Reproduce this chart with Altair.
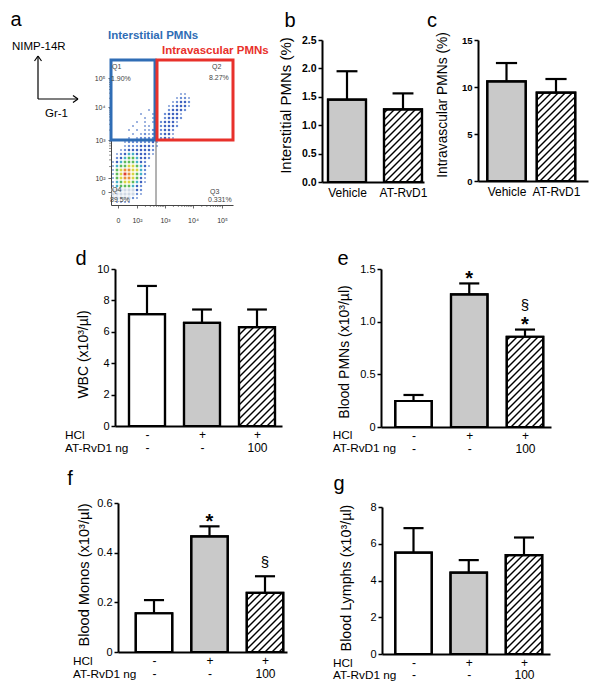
import json
import math
import altair as alt
import pandas as pd

W, H, M = 586, 679, 8
SANS = "Liberation Sans, Arial, Helvetica, sans-serif"
NARROW = "Liberation Sans Narrow, Liberation Sans, Arial, sans-serif"

# ------------------------------------------------------------------ data
# panel b / c : Vehicle vs AT-RvD1
bc_groups = ["Vehicle", "AT-RvD1"]
bc_fill = ["gray", "hatch"]
b_mean = [1.45, 1.28]
b_upper = [1.95, 1.56]
c_mean = [10.6, 9.4]
c_upper = [12.55, 10.85]

# panels d-g : control / HCl / HCl + AT-RvD1
hcl_row = ["-", "+", "+"]
rvd_row = ["-", "-", "100"]
trio_fill = ["white", "gray", "hatch"]
d_mean = [7.12, 6.57, 6.30]
d_upper = [8.92, 7.42, 7.42]
e_mean = [0.247, 1.26, 0.857]
e_upper = [0.304, 1.363, 0.925]
f_mean = [0.156, 0.466, 0.238]
f_upper = [0.209, 0.506, 0.305]
g_mean = [5.52, 4.43, 5.38]
g_upper = [6.85, 5.11, 6.34]
e_star = [1, 2]
e_section = [2]
f_star = [1]
f_section = [2]

# panel a : flow cytometry (display units)
flow_ticks_x = [7, 26, 54, 82, 111]
flow_ticks_y = [13, 27, 65, 98, 127]
flow_tick_text = ["0", "10²", "10³", "10⁴", "10⁵"]
gate_names = ["Q1", "Q2", "Q3", "Q4"]
gate_pct = ["1.90%", "8.27%", "0.331%", "89.5%"]
gate_x = 46
gate_y = 65
flow_grid = [
    "                 .. ",
    "                .::.",
    "               .:bb:",
    "              .:bbb.",
    "         .    :bbb: ",
    "       .  .  :bbb.  ",
    "        . .  :bbb:  ",
    "      . . . :bbb.   ",
    "     .  ..  :bbb:   ",
    "    . . ..: :bb:    ",
    "     . .:.: :bb.    ",
    "    . .:::: :b:.    ",
    "   .::::::b.        ",
    "   .:::bbb:.        ",
    "  .:bbbbbb:         ",
    " .:bccbbb:.         ",
    " :bcggcbb:          ",
    ".bcgggcb:           ",
    ".cggyygcb.          ",
    ".gyooyyc:           ",
    ".gyroygc:           ",
    ".gyooygb.           ",
    ".cgyygcb.           ",
    ".cgggcb:            ",
    "ppppppb:            ",
    "pppppp:.            ",
    "ppppp:.             ",
    " ....               ",
]

# ------------------------------------------------------------------ layout / style
FILL = {"white": "#ffffff", "gray": "#c9c9c9", "hatch": "#ffffff"}
DENS = {".": ("#9db3e0", 4), ":": ("#6d8fd6", 9), "b": ("#3f63c0", 16),
        "c": ("#45b0c8", 16), "g": ("#5dbb5a", 16), "y": ("#d8d442", 16),
        "o": ("#e8903a", 16), "r": ("#e0402f", 16), "p": ("#cfd9e6", 16)}
LAY = {
    "b": dict(left=322, right=424, top=40, bottom=182, c0=347, step=56, bw=38, ymax=2.5),
    "c": dict(left=478, right=588, top=40, bottom=181, c0=506.5, step=49.5, bw=38.5, ymax=15),
    "d": dict(left=115, right=282, top=269, bottom=426, c0=147, step=55, bw=36, ymax=10),
    "e": dict(left=381, right=551, top=269, bottom=427, c0=413.5, step=55.75, bw=36.5, ymax=1.5),
    "f": dict(left=118, right=287, top=503, bottom=652, c0=154, step=55.5, bw=36.5, ymax=0.6),
    "g": dict(left=382, right=550, top=507, bottom=654, c0=413.5, step=55.25, bw=36.5, ymax=8),
}
ONE = pd.DataFrame({"k": [0]})


def hatch_segments(i, mean, geo, s=7.0):
    half = geo["bw"] / 2
    cx = geo["c0"] + i * geo["step"]
    x0, x1 = cx - half, cx + half
    yb = geo["bottom"]
    pxy = (geo["bottom"] - geo["top"]) / geo["ymax"]
    yt = yb - mean * pxy
    segs = []
    kmin, kmax = x0 + yt, x1 + yb
    j = math.floor(kmin / s) + 1
    while j * s < kmax:
        k = j * s
        xa = max(x0, k - yb)
        xb = min(x1, k - yt)
        if xb - xa > 0.8:
            segs.append(dict(hx1=(xa - geo["c0"]) / geo["step"], hx2=(xb - geo["c0"]) / geo["step"],
                             hy1=(yb - (k - xa)) / pxy, hy2=(yb - (k - xb)) / pxy))
        j += 1
    return segs


def y_axis(geo, values, expr, title, tcx, tcy, font, size, weight, tsize=14):
    return alt.Axis(orient="left", offset=-(geo["left"] - M), values=values, labelExpr=expr,
                    labelFont=font, labelFontSize=size, labelFontWeight=weight, labelColor="black",
                    labelPadding=2, labelFlush=False, labelOverlap=False, tickSize=4,
                    tickColor="black", tickWidth=1.5, domainColor="black", domainWidth=2,
                    grid=False, title=title, titleFont=SANS, titleFontSize=tsize,
                    titleFontWeight="normal", titleColor="black", titleAngle=270,
                    titleAlign="center", titleBaseline="middle",
                    titleX=tcx - geo["left"], titleY=tcy - M)


def x_axis(geo, n, expr, pad, lh):
    return alt.Axis(orient="bottom", offset=(geo["bottom"] - M) - H, values=list(range(n)),
                    labelExpr=expr, ticks=False, tickSize=0, labelPadding=pad,
                    labelLineHeight=lh, labelBaseline="top", labelFont=SANS, labelFontSize=12,
                    labelColor="black", labelFlush=False, labelOverlap=False, labelAngle=0,
                    domainColor="black", domainWidth=2, grid=False, title="")


def bar_panel(means, uppers, fills, geo, yax, xax, stars=(), sections=()):
    n = len(means)
    lo = (geo["left"] - geo["c0"]) / geo["step"]
    hi = (geo["right"] - geo["c0"]) / geo["step"]
    xs = alt.Scale(domain=[lo, hi], range=[geo["left"] - M, geo["right"] - M], nice=False, zero=False)
    ys = alt.Scale(domain=[0, geo["ymax"]], range=[geo["bottom"] - M, geo["top"] - M], nice=False, zero=False)
    half = geo["bw"] / 2 / geo["step"]
    cap = half * 0.55
    idx = list(range(n))
    df = pd.DataFrame({"i": idx, "x1": [i - half for i in idx], "x2": [i + half for i in idx],
                       "cl": [i - cap for i in idx], "cr": [i + cap for i in idx],
                       "m": means, "u": uppers, "base": [0] * n,
                       "fill": [FILL[f] for f in fills]})
    segs = []
    for i, f in enumerate(fills):
        if f == "hatch":
            segs += hatch_segments(i, means[i], geo)
    hdf = pd.DataFrame(segs)

    def X(f):
        return alt.X(f, type="quantitative", scale=xs, axis=xax)

    def Y(f):
        return alt.Y(f, type="quantitative", scale=ys, axis=yax)

    bars = alt.Chart(df).mark_rect(stroke="black", strokeWidth=2.2).encode(
        x=X("x1"), x2="x2:Q", y=Y("m"), y2="base:Q", fill=alt.Fill("fill:N", scale=None))
    hatch = alt.Chart(hdf).mark_rule(color="black", strokeWidth=1.4).encode(
        x=X("hx1"), x2="hx2:Q", y=Y("hy1"), y2="hy2:Q")
    outline = alt.Chart(df).mark_rect(fillOpacity=0, stroke="black", strokeWidth=2.2).encode(
        x=X("x1"), x2="x2:Q", y=Y("m"), y2="base:Q")
    err = alt.Chart(df).mark_rule(color="black", strokeWidth=2.2).encode(
        x=X("i"), y=Y("m"), y2="u:Q")
    caps = alt.Chart(df).mark_rule(color="black", strokeWidth=2.2).encode(
        x=X("cl"), x2="cr:Q", y=Y("u"))
    layers = [bars, hatch, outline, err, caps]
    if stars:
        sdf = pd.DataFrame({"i": list(stars), "u": [uppers[i] for i in stars]})
        layers.append(alt.Chart(sdf).mark_text(text="*", fontSize=20, fontWeight="bold", font=SANS,
                                               baseline="alphabetic", dy=1.5, color="black").encode(
            x=X("i"), y=Y("u")))
    for i in sections:
        shift = -9.5 - (10 if i in stars else 0)
        sdf = pd.DataFrame({"i": [i], "u": [uppers[i]]})
        layers.append(alt.Chart(sdf).mark_text(text="§", fontSize=15, font=SANS,
                                               baseline="alphabetic", dy=shift, color="black").encode(
            x=X("i"), y=Y("u")))
    return alt.layer(*layers)


def txt(s, x, y, size=12, align="left", baseline="alphabetic", weight="normal", color="black"):
    return alt.Chart(ONE).mark_text(text=s, align=align, baseline=baseline, fontSize=size,
                                    fontWeight=weight, color=color, font=SANS).encode(
        x=alt.value(x - M), y=alt.value(y - M))


def seg(x1, y1, x2, y2, w=1.2):
    return alt.Chart(ONE).mark_rule(color="black", strokeWidth=w).encode(
        x=alt.value(x1 - M), y=alt.value(y1 - M), x2=alt.value(x2 - M), y2=alt.value(y2 - M))


# ------------------------------------------------------------------ panel a
fx = alt.Scale(domain=[0, 122], range=[111 - M, 233 - M], nice=False, zero=False)
fy = alt.Scale(domain=[0, 145], range=[205 - M, 60 - M], nice=False, zero=False)
lab_js = json.dumps(flow_tick_text, ensure_ascii=False)
fxa = alt.Axis(orient="bottom", offset=(205 - M) - H, values=flow_ticks_x,
               labelExpr=f"{lab_js}[indexof({json.dumps(flow_ticks_x)}, datum.value)]",
               tickSize=3, tickColor="#444", tickWidth=0.8, domainColor="#444", domainWidth=1,
               labelFont=SANS, labelFontSize=7, labelColor="#333", labelPadding=8,
               labelFlush=False, labelOverlap=False, grid=False, title="")
fya = alt.Axis(orient="left", offset=-(111 - M), values=flow_ticks_y,
               labelExpr=f"{lab_js}[indexof({json.dumps(flow_ticks_y)}, datum.value)]",
               tickSize=3, tickColor="#444", tickWidth=0.8, domainColor="#444", domainWidth=1,
               labelFont=SANS, labelFontSize=7, labelColor="#333", labelPadding=3,
               labelFlush=False, labelOverlap=False, grid=False, title="")


def FX(f):
    return alt.X(f, type="quantitative", scale=fx, axis=fxa)


def FY(f):
    return alt.Y(f, type="quantitative", scale=fy, axis=fya)


cells = []
for r, row in enumerate(flow_grid):
    for c, ch in enumerate(row):
        if ch != " ":
            cells.append(dict(cx=2 + 4 * c, cy=111 - 4 * r, ch=ch))
cdf = pd.DataFrame(cells)
keys = list(DENS)
dens = alt.Chart(cdf).mark_square(opacity=1).encode(
    x=FX("cx"), y=FY("cy"),
    color=alt.Color("ch:N", scale=alt.Scale(domain=keys, range=[DENS[k][0] for k in keys]), legend=None),
    size=alt.Size("ch:O", scale=alt.Scale(domain=keys, range=[DENS[k][1] for k in keys]), legend=None))

# log-decade minor ticks on both flow axes
minor_x, minor_y = [], []
for ticks, out in ((flow_ticks_x, minor_x), (flow_ticks_y, minor_y)):
    for a, b in zip(ticks[1:-1], ticks[2:]):
        out.extend(a + math.log10(k) * (b - a) for k in range(2, 10))
mx = alt.Chart(pd.DataFrame({"x": minor_x, "y": [0] * len(minor_x), "y2": [-2] * len(minor_x)})).mark_rule(
    color="#444", strokeWidth=0.6).encode(x=FX("x"), y=FY("y"), y2="y2:Q")
my = alt.Chart(pd.DataFrame({"y": minor_y, "x": [0] * len(minor_y), "x2": [-2] * len(minor_y)})).mark_rule(
    color="#444", strokeWidth=0.6).encode(y=FY("y"), x=FX("x"), x2="x2:Q")

gdf = pd.DataFrame({"x": [0, gate_x], "x2": [gate_x - 2, 122], "y": [gate_y, gate_y],
                    "y2": [145, 145], "col": ["#2f6db5", "#e8312b"]})
boxes = alt.Chart(gdf).mark_rect(fillOpacity=0, strokeWidth=3).encode(
    x=FX("x"), x2="x2:Q", y=FY("y"), y2="y2:Q", stroke=alt.Stroke("col:N", scale=None))
vline = alt.Chart(pd.DataFrame({"x": [gate_x - 1], "y": [0], "y2": [gate_y]})).mark_rule(
    color="#666", strokeWidth=1).encode(x=FX("x"), y=FY("y"), y2="y2:Q")
qpos = {"Q1": ((1, 138), (0, 126)), "Q2": ((101, 138), (98, 127)),
        "Q3": ((99, 13), (97, 5)), "Q4": ((1, 15), (-1, 5))}
qrows = []
for name, pct in zip(gate_names, gate_pct):
    (nx, ny), (px, py) = qpos[name]
    qrows.append(dict(t=name, x=nx, y=ny))
    qrows.append(dict(t=pct, x=px, y=py))
qtext = alt.Chart(pd.DataFrame(qrows)).mark_text(align="left", baseline="middle", fontSize=7,
                                                 font=SANS, color="#444").encode(
    x=FX("x"), y=FY("y"), text="t:N")
hdf_ = pd.DataFrame({"t": ["Interstitial PMNs", "Intravascular PMNs"], "x": [-3, 51], "y": [169, 154],
                     "col": ["#2f6db5", "#e8312b"]})
heads = alt.Chart(hdf_).mark_text(align="left", baseline="middle", fontSize=11.5,
                                  fontWeight="bold", font=SANS).encode(
    x=FX("x"), y=FY("y"), text="t:N", fill=alt.Fill("col:N", scale=None))
panel_a = alt.layer(dens, mx, my, vline, boxes, qtext, heads)

# ------------------------------------------------------------------ panels b-g
bc_expr = f"{json.dumps(bc_groups)}[datum.value]"
trio_expr = f"{json.dumps([[h, r] for h, r in zip(hcl_row, rvd_row)])}[datum.value]"
dec_expr = "datum.value == 0 ? '0' : format(datum.value, '.1f')"

g_ = LAY["b"]
panel_b = bar_panel(b_mean, b_upper, bc_fill, g_,
                    y_axis(g_, [0, 0.5, 1, 1.5, 2, 2.5], "format(datum.value, '.1f')",
                           "Interstitial PMNs (%)", 285, 105, SANS, 10.5, "bold", 15),
                    x_axis(g_, 2, bc_expr, 5.5, 14))
g_ = LAY["c"]
panel_c = bar_panel(c_mean, c_upper, bc_fill, g_,
                    y_axis(g_, [0, 5, 10, 15], "format(datum.value, 'd')",
                           "Intravascular PMNs (%)", 442, 104.5, SANS, 9.5, "bold", 13.8),
                    x_axis(g_, 2, bc_expr, 5.5, 14))
g_ = LAY["d"]
panel_d = bar_panel(d_mean, d_upper, trio_fill, g_,
                    y_axis(g_, [0, 2, 4, 6, 8, 10], "format(datum.value, 'd')",
                           "WBC (x10³/µl)", 83, 354, NARROW, 11, "normal", 14),
                    x_axis(g_, 3, trio_expr, 3.5, 12.7))
g_ = LAY["e"]
panel_e = bar_panel(e_mean, e_upper, trio_fill, g_,
                    y_axis(g_, [0, 0.5, 1, 1.5], dec_expr,
                           "Blood PMNs (x10³/µl)", 344, 351.5, NARROW, 11, "normal", 14),
                    x_axis(g_, 3, trio_expr, 3.5, 12.7), stars=e_star, sections=e_section)
g_ = LAY["f"]
panel_f = bar_panel(f_mean, f_upper, trio_fill, g_,
                    y_axis(g_, [0, 0.2, 0.4, 0.6], dec_expr,
                           "Blood Monos (x10³/µl)", 84, 574.5, NARROW, 11, "normal", 14.6),
                    x_axis(g_, 3, trio_expr, 3.8, 13), stars=f_star, sections=f_section)
g_ = LAY["g"]
panel_g = bar_panel(g_mean, g_upper, trio_fill, g_,
                    y_axis(g_, [0, 2, 4, 6, 8], "format(datum.value, 'd')",
                           "Blood Lymphs (x10³/µl)", 346, 577.5, NARROW, 11, "normal", 14.3),
                    x_axis(g_, 3, trio_expr, 3.3, 12.5))

# ------------------------------------------------------------------ annotations
notes = [
    txt("a", 16, 26, 20, "center"), txt("b", 290, 27, 20, "center"), txt("c", 432, 27, 20, "center"),
    txt("d", 81, 265, 20, "center"), txt("e", 343, 265, 20, "center"),
    txt("f", 70, 485, 20, "center"), txt("g", 339, 490, 20, "center"),
    txt("NIMP-14R", 12, 50, 11.5), txt("Gr-1", 45, 117, 11.5),
    txt("HCl", 65, 439, 11.8), txt("AT-RvD1 ng", 65, 451.7, 11.8),
    txt("HCl", 332.7, 439, 11.8), txt("AT-RvD1 ng", 332.7, 451.7, 11.8),
    txt("HCl", 73, 665.3, 11.8), txt("AT-RvD1 ng", 73, 678.3, 11.8),
    txt("HCl", 333, 666.8, 11.8), txt("AT-RvD1 ng", 333, 679.3, 11.8),
    seg(38, 99, 38, 56), seg(34.5, 61, 38, 56), seg(41.5, 61, 38, 56),
    seg(38, 99, 78, 99), seg(73, 95.5, 78, 99), seg(73, 102.5, 78, 99),
]

chart = alt.layer(panel_a, panel_b, panel_c, panel_d, panel_e, panel_f, panel_g, *notes).resolve_scale(
    x="independent", y="independent", color="independent", size="independent"
).properties(width=W, height=H, autosize=alt.AutoSizeParams(type="none"), padding=0
).configure_view(strokeWidth=0)

chart.save("out.html", embed_options={"renderer": "svg", "actions": False})
